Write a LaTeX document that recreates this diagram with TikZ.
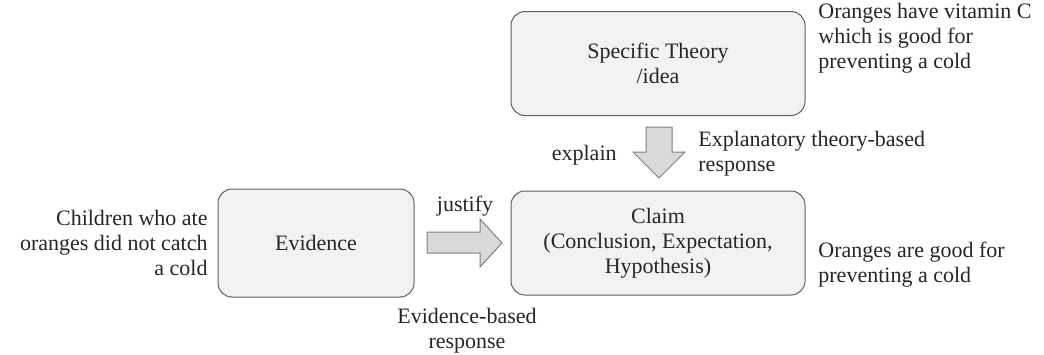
\documentclass[tikz,border=0pt]{standalone}
\usepackage{fontspec}
\setmainfont{Liberation Serif}
\definecolor{boxfill}{HTML}{F2F2F2}
\definecolor{boxline}{HTML}{5F5F5F}
\definecolor{arrfill}{HTML}{D9D9D9}
\definecolor{arrline}{HTML}{7F7F7F}
\begin{document}
\begin{tikzpicture}[x=0.5pt,y=-0.5pt,
  txt/.style={inner sep=0pt,font=\fontsize{11}{12.5}\selectfont,text=black!85},
  rbox/.style={draw=boxline,fill=boxfill,rounded corners=7pt,line width=0.5pt,minimum width=147pt,minimum height=52pt,txt,align=center},
  blockarrow/.style={draw=arrline,fill=arrfill,line width=0.5pt}]
\useasboundingbox (0,0) rectangle (1044,354);
% boxes
\node[rbox] (theory) at (658,63.5) {Specific Theory\\/idea};
\node[rbox] (claim) at (658,243) {Claim\\(Conclusion, Expectation,\\Hypothesis)};
\node[rbox,minimum width=98pt,minimum height=54pt] (evidence) at (316,243) {Evidence};
% block arrows
\draw[blockarrow] (646,127) -- (672,127) -- (672,152) -- (685,152) -- (659,178) -- (633,152) -- (646,152) -- cycle;
\draw[blockarrow] (427,232) -- (480,232) -- (480,219) -- (502,243) -- (480,267) -- (480,253) -- (427,253) -- cycle;
% labels
\node[txt,align=left,anchor=north west] (t1) at (818,3) {Oranges have vitamin C\\which is good for\\preventing a cold};
\node[txt,anchor=east] (explain) at (617,155) {explain};
\node[txt,align=left,anchor=west] (t2) at (698,154) {Explanatory theory-based\\response};
\node[txt] (justify) at (465,206) {justify};
\node[txt,align=left,anchor=north west] (t3) at (818,242) {Oranges are good for\\preventing a cold};
\node[txt,align=right,anchor=east] (t4) at (208,243) {Children who ate\\oranges did not catch\\a cold};
\node[txt,align=center] (t5) at (467,331) {Evidence-based\\response};
\end{tikzpicture}
\end{document}
